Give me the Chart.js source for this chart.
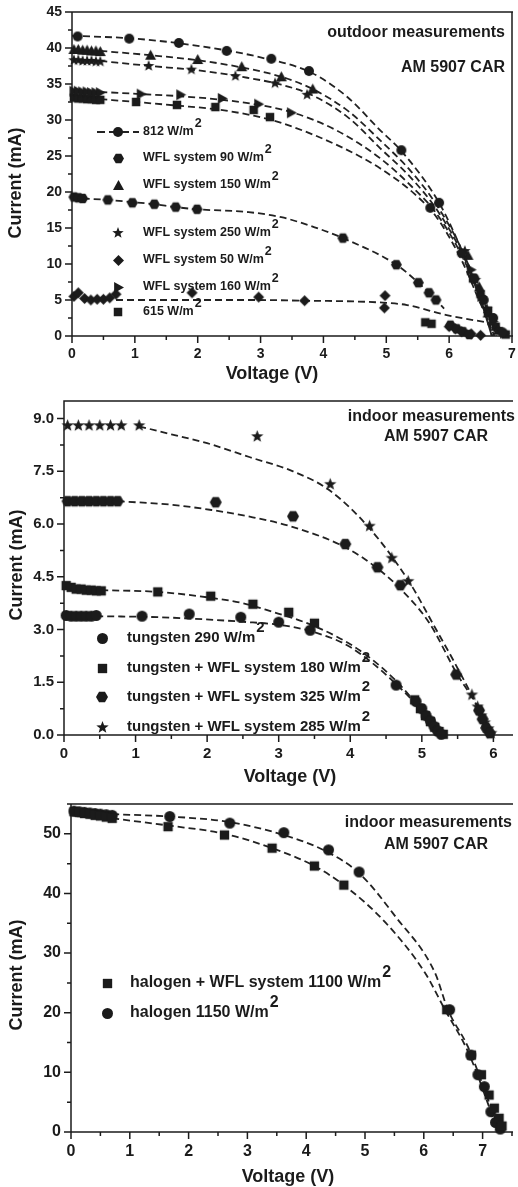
<!DOCTYPE html>
<html lang="en">
  <head>
    <meta charset="UTF-8" />
    <meta name="viewport" content="width=device-width, initial-scale=1.0" />
    <script src="https://cdn.jsdelivr.net/npm/chart.js"></script>
    <style>
      body { margin: 0; background: #fff; width: 518px; height: 1187px; overflow: hidden; }
      .panel { position: absolute; left: 0; width: 518px; }
    </style>
  </head>
  <body>
    <div class="panel" style="top: 0; height: 390px"><canvas id="outdoorChart"></canvas></div>
    <div class="panel" style="top: 390px; height: 400px"><canvas id="tungstenChart"></canvas></div>
    <div class="panel" style="top: 790px; height: 397px"><canvas id="halogenChart"></canvas></div>

    <script>
      // ---- outdoor measurements (V, mA) ----
      const out812V = [0.09, 0.91, 1.70, 2.46, 3.17, 3.77, 5.24, 5.70, 5.84, 6.20, 6.40, 6.55, 6.70, 6.85];
      const out812I = [41.6, 41.3, 40.7, 39.6, 38.5, 36.8, 25.8, 17.8, 18.5, 11.5, 8.0, 5.0, 2.5, 0.5];
      const wfl90V = [0.03, 0.10, 0.17, 0.57, 0.96, 1.31, 1.65, 1.99, 4.31, 5.16, 5.51, 5.68, 5.79, 6.02, 6.12, 6.22, 6.32];
      const wfl90I = [19.3, 19.2, 19.1, 18.9, 18.5, 18.3, 17.9, 17.6, 13.6, 9.9, 7.4, 6.0, 5.0, 1.5, 1.0, 0.6, 0.2];
      const wfl150V = [0.03, 0.10, 0.17, 0.24, 0.31, 0.38, 0.45, 1.25, 2.00, 2.70, 3.33, 3.83, 6.30, 6.48, 6.62, 6.78];
      const wfl150I = [39.8, 39.8, 39.7, 39.7, 39.6, 39.6, 39.5, 39.0, 38.4, 37.4, 36.0, 34.3, 11.2, 6.8, 3.2, 0.8];
      const wfl250V = [0.03, 0.10, 0.17, 0.24, 0.31, 0.38, 0.45, 1.22, 1.90, 2.60, 3.23, 3.74, 6.25, 6.42, 6.60, 6.78];
      const wfl250I = [38.3, 38.3, 38.2, 38.2, 38.2, 38.1, 38.1, 37.5, 37.0, 36.1, 35.1, 33.5, 11.8, 7.8, 3.8, 1.0];
      const wfl50V = [0.03, 0.10, 0.20, 0.30, 0.40, 0.50, 0.60, 0.70, 1.91, 2.97, 3.70, 4.98, 4.97, 6.00, 6.10, 6.20, 6.35, 6.50];
      const wfl50I = [5.5, 6.0, 5.2, 5.0, 5.1, 5.1, 5.3, 5.8, 6.0, 5.4, 4.9, 5.6, 3.9, 1.3, 1.0, 0.6, 0.3, 0.1];
      const wfl160V = [0.03, 0.10, 0.17, 0.24, 0.31, 0.38, 0.45, 1.10, 1.73, 2.39, 2.97, 3.49, 6.35, 6.52, 6.70, 6.88];
      const wfl160I = [34.0, 34.0, 33.9, 33.9, 33.8, 33.8, 33.8, 33.6, 33.5, 33.0, 32.2, 31.0, 9.2, 5.5, 2.0, 0.4];
      const out615V = [0.03, 0.10, 0.17, 0.24, 0.31, 0.38, 0.45, 1.02, 1.67, 2.28, 2.89, 3.15, 5.62, 5.72, 6.38, 6.50, 6.62, 6.74, 6.90];
      const out615I = [33.1, 33.0, 33.0, 32.9, 32.9, 32.8, 32.8, 32.5, 32.1, 31.8, 31.4, 30.4, 1.9, 1.7, 8.0, 5.8, 3.5, 1.3, 0.2];

      // fitted curves
      const fit812V = [0, 1, 2, 3, 3.8, 4.38, 4.9, 5.24, 5.84, 6.2, 6.45, 6.65, 6.75];
      const fit812I = [41.7, 41.3, 40.3, 38.7, 36.6, 33.2, 28.6, 25.7, 18.5, 12.0, 7.0, 2.5, 0];
      const fit150V = [0.45, 1.25, 2.0, 2.7, 3.33, 3.83, 4.4, 4.9, 5.4, 5.8, 6.2, 6.45, 6.68];
      const fit150I = [39.6, 39.0, 38.3, 37.3, 36.0, 34.3, 31.2, 27.2, 22.8, 18.2, 12.0, 6.5, 0];
      const fit250V = [0.45, 1.25, 2.0, 2.7, 3.33, 3.83, 4.4, 4.9, 5.4, 5.8, 6.2, 6.45, 6.68];
      const fit250I = [38.2, 37.5, 36.9, 36.0, 34.9, 33.4, 30.3, 26.1, 21.9, 17.6, 11.6, 6.3, 0];
      const fit160V = [0.45, 1.1, 1.73, 2.39, 2.97, 3.49, 4.2, 4.9, 5.4, 5.8, 6.2, 6.45, 6.7];
      const fit160I = [33.9, 33.6, 33.3, 32.8, 32.1, 31.1, 28.6, 24.7, 20.8, 17.0, 11.2, 6.2, 0];
      const fit615V = [0.45, 1.02, 1.67, 2.28, 2.89, 3.33, 4.27, 4.9, 5.44, 5.8, 6.2, 6.45, 6.72];
      const fit615I = [32.9, 32.5, 32.0, 31.5, 30.6, 29.6, 26.3, 23.3, 19.8, 16.5, 10.5, 5.5, 0];
      const fit90V = [0.17, 0.57, 0.96, 1.31, 1.65, 1.99, 2.81, 3.33, 3.86, 4.31, 5.16, 5.51, 5.79, 5.92];
      const fit90I = [19.1, 18.9, 18.6, 18.3, 17.9, 17.6, 17.2, 16.5, 15.1, 13.6, 9.9, 7.4, 5.0, 3.8];
      const fit50V = [0.7, 1.91, 2.97, 3.7, 4.5, 5.0, 5.33, 5.96, 6.59];
      const fit50I = [5.0, 5.0, 5.0, 4.9, 4.8, 4.6, 4.3, 2.9, 1.9];

      const outdoorLabels = ["812 W/m2", "WFL system 90 W/m2", "WFL system 150 W/m2", "WFL system 250 W/m2",
        "WFL system 50 W/m2", "WFL system 160 W/m2", "615 W/m2"];

      // ---- indoor, tungsten ----
      const tung290V = [0.03, 0.10, 0.17, 0.24, 0.31, 0.38, 0.45, 1.09, 1.75, 2.47, 3.00, 3.44, 4.64, 4.92, 5.00, 5.06, 5.12, 5.17, 5.22, 5.27];
      const tung290I = [3.40, 3.38, 3.38, 3.38, 3.38, 3.38, 3.40, 3.38, 3.44, 3.35, 3.21, 2.98, 1.42, 0.95, 0.75, 0.55, 0.40, 0.25, 0.12, 0.02];
      const tung180V = [0.03, 0.10, 0.17, 0.24, 0.31, 0.38, 0.45, 0.52, 1.31, 2.05, 2.64, 3.14, 3.50, 4.90, 4.98, 5.05, 5.12, 5.18, 5.24, 5.30];
      const tung180I = [4.25, 4.20, 4.15, 4.15, 4.12, 4.12, 4.10, 4.10, 4.07, 3.95, 3.72, 3.49, 3.18, 1.00, 0.75, 0.55, 0.38, 0.22, 0.10, 0.02];
      const tung325V = [0.05, 0.15, 0.25, 0.35, 0.45, 0.55, 0.65, 0.75, 2.12, 3.20, 3.93, 4.38, 4.70, 5.48, 5.80, 5.85, 5.90, 5.95];
      const tung325I = [6.65, 6.65, 6.65, 6.65, 6.65, 6.65, 6.65, 6.65, 6.62, 6.22, 5.43, 4.77, 4.26, 1.72, 0.70, 0.45, 0.20, 0.05];
      const tung285V = [0.05, 0.20, 0.35, 0.50, 0.65, 0.80, 1.05, 2.70, 3.72, 4.27, 4.58, 4.81, 5.70, 5.78, 5.83, 5.88, 5.93, 5.97];
      const tung285I = [8.80, 8.80, 8.80, 8.80, 8.80, 8.80, 8.80, 8.49, 7.13, 5.94, 5.03, 4.37, 1.14, 0.80, 0.55, 0.35, 0.18, 0.05];

      const fit290V = [0.45, 1.32, 1.97, 2.5, 3.02, 3.49, 4.0, 4.63, 5.14, 5.25];
      const fit290I = [3.38, 3.35, 3.29, 3.22, 3.13, 2.93, 2.5, 1.47, 0.34, 0];
      const fit180V = [0.52, 1.31, 2.06, 2.52, 2.84, 3.53, 4.13, 4.63, 4.95, 5.2];
      const fit180I = [4.12, 4.07, 3.9, 3.74, 3.55, 3.07, 2.41, 1.56, 0.8, 0];
      const fit325V = [0.75, 1.5, 2.06, 2.57, 3.16, 3.93, 4.36, 4.68, 5.1, 5.46, 5.88, 5.93];
      const fit325I = [6.65, 6.55, 6.4, 6.22, 5.94, 5.34, 4.77, 4.2, 3.2, 1.85, 0.34, 0];
      const fit285V = [1.05, 1.5, 2.0, 2.6, 3.2, 3.71, 4.26, 4.81, 5.2, 5.46, 5.78, 5.97];
      const fit285I = [8.78, 8.55, 8.3, 7.9, 7.5, 6.96, 5.9, 4.4, 3.0, 2.05, 0.8, 0];

      const tungstenLabels = ["tungsten 290 W/m2", "tungsten + WFL system 180 W/m2",
        "tungsten + WFL system 325 W/m2", "tungsten + WFL system 285 W/m2"];

      // ---- indoor, halogen ----
      const halWflV = [0.05, 0.14, 0.23, 0.32, 0.41, 0.50, 0.60, 0.70, 1.65, 2.61, 3.42, 4.14, 4.64, 6.39, 6.81, 6.98, 7.11, 7.20, 7.28, 7.33];
      const halWflI = [53.7, 53.6, 53.4, 53.3, 53.1, 53.0, 52.8, 52.6, 51.2, 49.8, 47.6, 44.6, 41.4, 20.5, 12.9, 9.6, 6.2, 4.0, 2.3, 1.0];
      const hal1150V = [0.05, 0.14, 0.23, 0.32, 0.41, 0.50, 0.60, 0.70, 1.68, 2.70, 3.62, 4.38, 4.90, 6.44, 6.80, 6.92, 7.03, 7.14, 7.22, 7.30];
      const hal1150I = [53.8, 53.7, 53.6, 53.5, 53.4, 53.3, 53.2, 53.1, 52.9, 51.8, 50.2, 47.3, 43.6, 20.5, 12.9, 9.6, 7.6, 3.4, 1.6, 0.5];

      const fitHalWflV = [0.7, 1.65, 2.61, 3.42, 4.14, 4.68, 5.35, 6.02, 6.36, 6.75, 7.1, 7.25];
      const fitHalWflI = [52.6, 51.4, 50.0, 47.6, 44.6, 41.1, 35.1, 26.7, 20.5, 13.5, 4.5, 0];
      const fitHal1150V = [0.7, 1.68, 2.67, 3.62, 4.35, 4.9, 5.52, 6.19, 6.41, 6.75, 7.14, 7.3];
      const fitHal1150I = [53.3, 52.9, 52.0, 49.8, 47.0, 43.4, 36.1, 26.7, 20.5, 14.3, 4.2, 0];

      const halogenLabels = ["halogen + WFL system 1100 W/m2", "halogen 1150 W/m2"];

      // ---------------------------------------------------------------
      const FONT = '"Liberation Sans", Arial, sans-serif';
      const INK = "#1b1b1b";

      // filled marker sprites (Chart.js has no hexagon / filled star)
      function marker(shape, size) {
        const s = size + 2;
        const c = document.createElement("canvas");
        c.width = s;
        c.height = s;
        const g = c.getContext("2d");
        const r = size / 2;
        g.fillStyle = INK;
        g.translate(s / 2, s / 2);
        g.beginPath();
        if (shape === "circle") g.arc(0, 0, r, 0, Math.PI * 2);
        else if (shape === "square") g.rect(-r * 0.85, -r * 0.85, r * 1.7, r * 1.7);
        else if (shape === "triangle") { g.moveTo(0, -r); g.lineTo(r, r * 0.8); g.lineTo(-r, r * 0.8); }
        else if (shape === "right") { g.moveTo(r, 0); g.lineTo(-r * 0.8, -r); g.lineTo(-r * 0.8, r); }
        else if (shape === "diamond") { g.moveTo(0, -r); g.lineTo(r, 0); g.lineTo(0, r); g.lineTo(-r, 0); }
        else if (shape === "hexagon") {
          for (let k = 0; k < 6; k++) g.lineTo(r * Math.cos(k * Math.PI / 3), r * Math.sin(k * Math.PI / 3));
        } else if (shape === "star") {
          for (let k = 0; k < 10; k++) {
            const a = -Math.PI / 2 + k * Math.PI / 5;
            const rr = k % 2 ? r * 0.42 : r;
            g.lineTo(rr * Math.cos(a), rr * Math.sin(a));
          }
        }
        g.closePath();
        g.fill();
        return c;
      }

      const pts = (xs, ys) => xs.map((x, i) => ({ x, y: ys[i] }));

      function markerSet(label, xs, ys, style, withLine) {
        return { label, data: pts(xs, ys), pointStyle: style, pointRadius: 5, showLine: false,
          clip: false, isMarker: true, legendLine: !!withLine, order: 1 };
      }

      function fitSet(xs, ys) {
        return { data: pts(xs, ys), showLine: true, borderColor: "#222", borderWidth: 1.8,
          borderDash: [7, 4], pointRadius: 0, cubicInterpolationMode: "monotone", order: 2 };
      }

      function drawSup(ctx, text, x, y, size) {
        const main = text.slice(0, -1);
        ctx.fillText(main, x, y);
        const w = ctx.measureText(main).width;
        ctx.fillText(text.slice(-1), x + w + 1, y - size * 0.65);
      }

      const decoPlugin = {
        id: "deco",
        beforeDatasetsDraw(chart, args, o) {
          const { ctx, chartArea: a, scales: { x, y } } = chart;
          ctx.save();
          ctx.strokeStyle = INK;
          ctx.lineWidth = 1.5;
          ctx.beginPath();
          // frame: right side only when it fits inside the picture
          ctx.moveTo(a.right + 1, a.top);
          ctx.lineTo(a.left, a.top);
          ctx.lineTo(a.left, a.bottom);
          ctx.lineTo(a.right + 1, a.bottom);
          if (o.rightBorder) { ctx.moveTo(a.right, a.top); ctx.lineTo(a.right, a.bottom); }
          for (let k = 0; k * o.xMinor <= x.max + 1e-9; k++) {
            const v = k * o.xMinor;
            const px = x.getPixelForValue(v);
            const major = Math.abs(v / o.xMajor - Math.round(v / o.xMajor)) < 1e-6;
            ctx.moveTo(px, a.bottom);
            ctx.lineTo(px, a.bottom + (major ? 7 : 4));
          }
          for (let k = 0; k * o.yMinor <= y.max + 1e-9; k++) {
            const v = k * o.yMinor;
            const py = y.getPixelForValue(v);
            const major = Math.abs(v / o.yMajor - Math.round(v / o.yMajor)) < 1e-6;
            ctx.moveTo(a.left, py);
            ctx.lineTo(a.left - (major ? 7 : 4), py);
          }
          ctx.stroke();
          ctx.restore();
        },
        afterDraw(chart, args, o) {
          const { ctx } = chart;
          ctx.save();
          ctx.fillStyle = INK;
          ctx.textBaseline = "middle";

          o.notes.forEach((n) => {
            ctx.font = `bold ${n.size}px ${FONT}`;
            ctx.textAlign = n.align;
            ctx.fillText(n.text, n.x, n.y);
          });

          ctx.font = `bold ${o.titleSize}px ${FONT}`;
          ctx.textAlign = "center";
          ctx.fillText("Voltage (V)", o.xTitle[0], o.xTitle[1]);
          ctx.save();
          ctx.translate(o.yTitle[0], o.yTitle[1]);
          ctx.rotate(-Math.PI / 2);
          ctx.fillText("Current (mA)", 0, 0);
          ctx.restore();

          const lg = o.legend;
          ctx.textAlign = "left";
          ctx.font = `bold ${lg.size}px ${FONT}`;
          chart.data.datasets.filter((d) => d.isMarker).forEach((d, i) => {
            const ry = lg.rows[i];
            if (d.legendLine) {
              ctx.save();
              ctx.strokeStyle = "#222";
              ctx.lineWidth = 1.8;
              ctx.setLineDash([8, 4]);
              ctx.beginPath();
              ctx.moveTo(lg.mx - 21, ry);
              ctx.lineTo(lg.mx + 21, ry);
              ctx.stroke();
              ctx.restore();
            }
            const img = d.pointStyle;
            ctx.drawImage(img, Math.round(lg.mx - img.width / 2), Math.round(ry - img.height / 2));
            drawSup(ctx, d.label, lg.tx, ry, lg.size);
          });
          ctx.restore();
        },
      };

      function makeChart(id, datasets, cfg) {
        const tickFont = { family: FONT, size: cfg.tickSize, weight: "bold" };
        const hiddenGrid = { drawOnChartArea: false, drawTicks: true, tickLength: 7, color: "rgba(0,0,0,0)" };
        return new Chart(document.getElementById(id), {
          type: "scatter",
          data: { datasets },
          options: {
            responsive: true,
            maintainAspectRatio: false,
            animation: false,
            events: [],
            layout: { padding: { top: cfg.top, right: cfg.rightBorder ? 1 : 0, left: 0, bottom: 0 } },
            plugins: { legend: { display: false }, tooltip: { enabled: false }, deco: cfg },
            scales: {
              x: {
                type: "linear", min: 0, max: cfg.xMax,
                afterFit: (s) => { s.height = cfg.xAxisH; s.paddingLeft = 0; s.paddingRight = 0; },
                ticks: { stepSize: cfg.xMajor, includeBounds: false, padding: 3, color: INK, font: tickFont,
                  maxRotation: 0, autoSkip: false, callback: (v) => String(v) },
                grid: hiddenGrid,
                border: { display: false },
              },
              y: {
                type: "linear", min: 0, max: cfg.yMax,
                afterFit: (s) => { s.width = cfg.yAxisW; s.paddingTop = 0; s.paddingBottom = 0; },
                ticks: { stepSize: cfg.yMajor, includeBounds: false, padding: 3, color: INK, font: tickFont,
                  autoSkip: false, callback: cfg.yFmt },
                grid: hiddenGrid,
                border: { display: false },
              },
            },
          },
          plugins: [decoPlugin],
        });
      }

      // ---- panel 1 ----
      makeChart("outdoorChart", [
        markerSet(outdoorLabels[0], out812V, out812I, marker("circle", 10), true),
        markerSet(outdoorLabels[1], wfl90V, wfl90I, marker("hexagon", 11)),
        markerSet(outdoorLabels[2], wfl150V, wfl150I, marker("triangle", 11)),
        markerSet(outdoorLabels[3], wfl250V, wfl250I, marker("star", 12)),
        markerSet(outdoorLabels[4], wfl50V, wfl50I, marker("diamond", 11)),
        markerSet(outdoorLabels[5], wfl160V, wfl160I, marker("right", 11)),
        markerSet(outdoorLabels[6], out615V, out615I, marker("square", 10)),
        fitSet(fit812V, fit812I),
        fitSet(fit150V, fit150I),
        fitSet(fit250V, fit250I),
        fitSet(fit160V, fit160I),
        fitSet(fit615V, fit615I),
        fitSet(fit90V, fit90I),
        fitSet(fit50V, fit50I),
      ], {
        top: 12, xAxisH: 54, yAxisW: 72, xMax: 7, yMax: 45, rightBorder: true,
        xMajor: 1, xMinor: 0.5, yMajor: 5, yMinor: 2.5, tickSize: 14,
        yFmt: (v) => String(v),
        titleSize: 18, xTitle: [272, 374], yTitle: [16, 183],
        notes: [
          { text: "outdoor measurements", x: 505, y: 33, align: "right", size: 16 },
          { text: "AM 5907 CAR", x: 505, y: 68, align: "right", size: 16 },
        ],
        legend: { mx: 118, tx: 143, size: 12.5, rows: [132, 158, 185, 233, 260, 287, 312] },
      });

      // ---- panel 2 ----
      makeChart("tungstenChart", [
        markerSet(tungstenLabels[0], tung290V, tung290I, marker("circle", 11)),
        markerSet(tungstenLabels[1], tung180V, tung180I, marker("square", 11)),
        markerSet(tungstenLabels[2], tung325V, tung325I, marker("hexagon", 12)),
        markerSet(tungstenLabels[3], tung285V, tung285I, marker("star", 13)),
        fitSet(fit290V, fit290I),
        fitSet(fit180V, fit180I),
        fitSet(fit325V, fit325I),
        fitSet(fit285V, fit285I),
      ], {
        top: 11, xAxisH: 55, yAxisW: 64, xMax: 6.26, yMax: 9.5, rightBorder: false,
        xMajor: 1, xMinor: 0.5, yMajor: 1.5, yMinor: 0.75, tickSize: 15,
        yFmt: (v) => v.toFixed(1),
        titleSize: 18, xTitle: [290, 387], yTitle: [17, 175],
        notes: [
          { text: "indoor measurements", x: 515, y: 27, align: "right", size: 16 },
          { text: "AM 5907 CAR", x: 436, y: 47, align: "center", size: 16 },
        ],
        legend: { mx: 102, tx: 127, size: 15, rows: [248, 278, 307, 337] },
      });

      // ---- panel 3 ----
      makeChart("halogenChart", [
        markerSet(halogenLabels[0], halWflV, halWflI, marker("square", 11)),
        markerSet(halogenLabels[1], hal1150V, hal1150I, marker("circle", 11)),
        fitSet(fitHalWflV, fitHalWflI),
        fitSet(fitHal1150V, fitHal1150I),
      ], {
        top: 14, xAxisH: 55, yAxisW: 71, xMax: 7.5, yMax: 55, rightBorder: false,
        xMajor: 1, xMinor: 0.5, yMajor: 10, yMinor: 5, tickSize: 16,
        yFmt: (v) => String(v),
        titleSize: 18, xTitle: [288, 387], yTitle: [17, 185],
        notes: [
          { text: "indoor measurements", x: 512, y: 33, align: "right", size: 16 },
          { text: "AM 5907 CAR", x: 436, y: 55, align: "center", size: 16 },
        ],
        legend: { mx: 107, tx: 130, size: 16, rows: [193, 223] },
      });
    </script>
  </body>
</html>
